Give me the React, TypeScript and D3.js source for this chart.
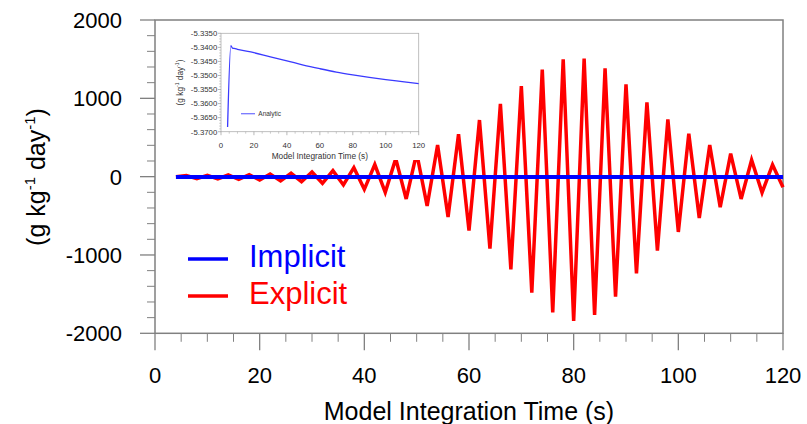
import React from "react";
import * as d3 from "d3";

// ---- data ----
const explicitTimes = [
  4, 6, 8, 10, 12, 14, 16, 18, 20, 22, 24, 26, 28, 30, 32, 34, 36, 38, 40, 42,
  44, 46, 48, 50, 52, 54, 56, 58, 60, 62, 64, 66, 68, 70, 72, 74, 76, 78, 80,
  82, 84, 86, 88, 90, 92, 94, 96, 98, 100, 102, 104, 106, 108, 110, 112, 114,
  116, 118, 120,
];
const explicitValues = [
  0, 13, -26, 17, -30, 21, -34, 26, -43, 34, -55, 43, -64, 60, -85, 77, -106,
  115, -162, 155, -200, 230, -285, 300, -374, 404, -515, 543, -689, 723, -919,
  928, -1183, 1157, -1481, 1366, -1732, 1498, -1843, 1506, -1766, 1383, -1532,
  1179, -1234, 949, -945, 732, -706, 549, -528, 404, -391, 294, -285, 213, -204,
  153, -135,
];
const analyticTimes = [4, 6, 7, 8, 10, 20, 30, 40, 50, 60, 70, 80, 90, 100, 110, 120];
const analyticValues = [
  -5.3683, -5.3394, -5.3403, -5.3404, -5.3407, -5.3419, -5.3434, -5.3448,
  -5.3463, -5.3476, -5.3488, -5.3498, -5.3507, -5.3515, -5.3522, -5.3529,
];
// implicit scheme follows the analytic solution (appears as ~0 on main scale)
const implicitTimes = analyticTimes;
const implicitValues = analyticValues;

const mainXTicks = [0, 20, 40, 60, 80, 100, 120];
const mainYTicks = [-2000, -1000, 0, 1000, 2000];
const insetXTicks = [0, 20, 40, 60, 80, 100, 120];
const insetYTicks = [-5.37, -5.365, -5.36, -5.355, -5.35, -5.345, -5.34, -5.335];
const legendLabels = ["Implicit", "Explicit"];
const insetLegendLabel = "Analytic";

const FONT = "'Liberation Sans', Arial, Helvetica, sans-serif";

export default function App() {
  const W = 807;
  const H = 424;
  const x = d3.scaleLinear().domain([0, 120]).range([155, 783]);
  const y = d3.scaleLinear().domain([-2000, 2000]).range([333.3, 20]);

  const ix = d3.scaleLinear().domain([0, 120]).range([221, 418.7]);
  const iy = d3.scaleLinear().domain([-5.37, -5.335]).range([131.7, 33.3]);

  const mainLine = d3
    .line<[number, number]>()
    .x((d) => x(d[0]))
    .y((d) => y(d[1]));
  const insetLine = d3
    .line<[number, number]>()
    .x((d) => ix(d[0]))
    .y((d) => iy(d[1]))
    .curve(d3.curveMonotoneX);

  const explicitPts = explicitTimes.map((t, i) => [t, explicitValues[i]] as [number, number]);
  const implicitPts = implicitTimes.map((t, i) => [t, implicitValues[i]] as [number, number]);
  const analyticPts = analyticTimes.map((t, i) => [t, analyticValues[i]] as [number, number]);

  const xMinor = d3.range(0, 121, 5).filter((v) => v % 20 !== 0);
  const yMinor = d3.range(-2000, 2001, 200).filter((v) => v % 1000 !== 0);
  const ixMinor = d3.range(0, 121, 5).filter((v) => v % 20 !== 0);
  const iyMinor = d3
    .range(0, 36)
    .map((k) => -5.37 + k * 0.001)
    .filter((v) => Math.abs(Math.round(v * 200) - v * 200) > 1e-6);

  const frameColor = "#808080";
  const [x0, x1] = x.range();
  const [yb, yt] = y.range();

  return (
    <svg
      width={W}
      height={H}
      style={{ position: "absolute", left: 0, top: 0, background: "#fff" }}
      fontFamily={FONT}
    >
      <rect x={0} y={0} width={W} height={H} fill="#fff" />
      {/* main frame */}
      <rect x={x0} y={yt} width={x1 - x0} height={yb - yt} fill="none" stroke={frameColor} strokeWidth={1.5} />
      {/* x ticks */}
      {mainXTicks.map((t) => (
        <g key={"xt" + t}>
          <line x1={x(t)} x2={x(t)} y1={yb} y2={yb + 17} stroke={frameColor} strokeWidth={1.3} />
          <text x={x(t)} y={383} fontSize={22} textAnchor="middle" fill="#000">
            {t}
          </text>
        </g>
      ))}
      {xMinor.map((t) => (
        <line key={"xm" + t} x1={x(t)} x2={x(t)} y1={yb} y2={yb + 8.5} stroke={frameColor} strokeWidth={1} />
      ))}
      {/* y ticks */}
      {mainYTicks.map((v) => (
        <g key={"yt" + v}>
          <line x1={x0 - 15} x2={x0} y1={y(v)} y2={y(v)} stroke={frameColor} strokeWidth={1.3} />
          <text x={122} y={y(v) + 8} fontSize={22} textAnchor="end" fill="#000">
            {v}
          </text>
        </g>
      ))}
      {yMinor.map((v) => (
        <line key={"ym" + v} x1={x0 - 8} x2={x0} y1={y(v)} y2={y(v)} stroke={frameColor} strokeWidth={1} />
      ))}
      {/* axis titles */}
      <text x={469} y={420} fontSize={25} textAnchor="middle" fill="#000">
        Model Integration Time (s)
      </text>
      <text transform={`translate(45,177) rotate(-90)`} fontSize={25} textAnchor="middle" fill="#000">
        <tspan>(g kg</tspan>
        <tspan fontSize={15} dy={-10}>-1</tspan>
        <tspan dy={10}> day</tspan>
        <tspan fontSize={15} dy={-10}>-1</tspan>
        <tspan dy={10}>)</tspan>
      </text>

      {/* series */}
      <path d={mainLine(explicitPts) || ""} fill="none" stroke="#ff0000" strokeWidth={3.5} />
      <path d={mainLine(implicitPts) || ""} fill="none" stroke="#0000ff" strokeWidth={4} />

      {/* legend */}
      <line x1={188} x2={228} y1={259} y2={259} stroke="#0000ff" strokeWidth={3.5} />
      <text x={249} y={267} fontSize={31} fill="#0000ff">
        {legendLabels[0]}
      </text>
      <line x1={188} x2={228} y1={296} y2={296} stroke="#ff0000" strokeWidth={3.5} />
      <text x={249} y={304} fontSize={31} fill="#ff0000">
        {legendLabels[1]}
      </text>

      {/* inset */}
      <rect x={169} y={21} width={258} height={139} fill="#fff" />
      <rect
        x={ix(0)}
        y={iy(-5.335)}
        width={ix(120) - ix(0)}
        height={iy(-5.37) - iy(-5.335)}
        fill="none"
        stroke="#b0b0b0"
        strokeWidth={0.8}
      />
      {insetXTicks.map((t) => (
        <g key={"ixt" + t}>
          <line x1={ix(t)} x2={ix(t)} y1={iy(-5.37)} y2={iy(-5.37) + 3.5} stroke="#999" strokeWidth={0.7} />
          <text x={ix(t)} y={148.3} fontSize={7.8} textAnchor="middle" fill="#333">
            {t}
          </text>
        </g>
      ))}
      {ixMinor.map((t) => (
        <line key={"ixm" + t} x1={ix(t)} x2={ix(t)} y1={iy(-5.37)} y2={iy(-5.37) + 2} stroke="#aaa" strokeWidth={0.6} />
      ))}
      {insetYTicks.map((v) => (
        <g key={"iyt" + v}>
          <line x1={ix(0) - 3} x2={ix(0)} y1={iy(v)} y2={iy(v)} stroke="#999" strokeWidth={0.7} />
          <text x={217.3} y={iy(v) + 2.8} fontSize={7.8} textAnchor="end" fill="#333">
            {v.toFixed(4)}
          </text>
        </g>
      ))}
      {iyMinor.map((v, i) => (
        <line key={"iym" + i} x1={ix(0) - 1.8} x2={ix(0)} y1={iy(v)} y2={iy(v)} stroke="#aaa" strokeWidth={0.6} />
      ))}
      <text x={(ix(0) + ix(120)) / 2} y={158.5} fontSize={8.3} textAnchor="middle" fill="#333">
        Model Integration Time (s)
      </text>
      <text transform={`translate(182.5,${(iy(-5.335) + iy(-5.37)) / 2}) rotate(-90)`} fontSize={8.3} textAnchor="middle" fill="#333">
        <tspan>(g kg</tspan>
        <tspan fontSize={5} dy={-3.3}>-1</tspan>
        <tspan dy={3.3}> day</tspan>
        <tspan fontSize={5} dy={-3.3}>-1</tspan>
        <tspan dy={3.3}>)</tspan>
      </text>
      <path d={insetLine(analyticPts) || ""} fill="none" stroke="#3a3aff" strokeWidth={1.3} />
      <line x1={241} x2={255} y1={113.7} y2={113.7} stroke="#7777ff" strokeWidth={1.3} />
      <text x={258.3} y={116} fontSize={6.5} fill="#333">
        {insetLegendLabel}
      </text>
    </svg>
  );
}
